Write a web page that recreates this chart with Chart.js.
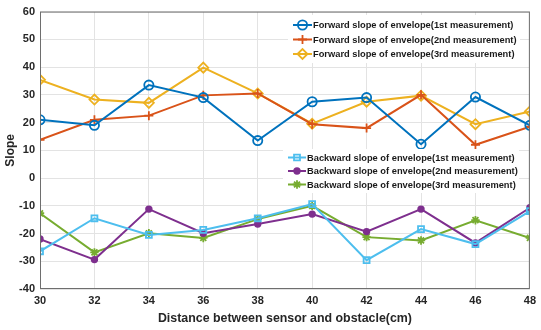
<!DOCTYPE html>
<html>
<head>
<meta charset="utf-8">
<script src="https://cdn.jsdelivr.net/npm/chart.js@4"></script>
<style>
  html, body { margin: 0; padding: 0; background: #fff; }
  #wrap { width: 541px; height: 330px; }
</style>
</head>
<body>
<div id="wrap"><canvas id="slopeChart"></canvas></div>
<script>
// distances (cm)
const distances = [30, 32, 34, 36, 38, 40, 42, 44, 46, 48];

const forward1 = [21, 19, 33.5, 29, 13.5, 27.5, 29, 12.2, 29.2, 19];
const forward2 = [13.8, 21, 22.5, 29.8, 30.5, 19.4, 18, 30, 12, 18.5];
const forward3 = [35.4, 28.3, 27.1, 39.8, 30.5, 19.6, 27.5, 29.7, 19.4, 24];
const backward1 = [-26.4, -14.5, -20.5, -18.7, -14.5, -9.4, -29.6, -18.4, -23.8, -11.9];
const backward2 = [-22, -29.4, -11.2, -19.9, -16.6, -13, -19.3, -11.2, -23.4, -10.7];
const backward3 = [-12.7, -26.8, -19.9, -21.6, -14.8, -10, -21.3, -22.5, -15.2, -21.6];

const yTicks = [-40, -30, -20, -10, 0, 10, 20, 30, 40, 50, 60];

const FONT = "'Liberation Sans', Arial, Helvetica, sans-serif";

function pts(values) {
    return distances.map((d, i) => ({ x: d, y: values[i] }));
}

function series(label, values, color, style, radius, fill) {
    return {
        label: label,
        data: pts(values),
        borderColor: color,
        backgroundColor: color,
        borderWidth: 2,
        pointStyle: style,
        pointRadius: radius,
        pointBorderWidth: 1.8,
        pointBorderColor: color,
        pointBackgroundColor: fill ? color : "rgba(0,0,0,0)",
        tension: 0
    };
}

const datasets = [
    series("Forward slope of envelope(1st measurement)", forward1, "#0072BD", "circle", 4.6, false),
    series("Forward slope of envelope(2nd measurement)", forward2, "#D95319", "cross", 4.5, false),
    series("Forward slope of envelope(3rd measurement)", forward3, "#EDB120", "rectRot", 5, false),
    series("Backward slope of envelope(1st measurement)", backward1, "#4DBEEE", "rect", 4.2, false),
    series("Backward slope of envelope(2nd measurement)", backward2, "#7E2F8E", "circle", 2.8, true),
    series("Backward slope of envelope(3rd measurement)", backward3, "#77AC30", "star", 4.2, false)
];

// box around the plot + the two legend boxes inside the axes
const boxAndLegends = {
    id: "boxAndLegends",
    afterDatasetsDraw(chart) {
        const ctx = chart.ctx;
        const a = chart.chartArea;
        ctx.save();
        ctx.strokeStyle = "#6e6e6e";
        ctx.lineWidth = 1;
        ctx.strokeRect(a.left + 0.5, a.top + 0.5, a.right - a.left - 1, a.bottom - a.top - 1);

        function legend(indices, x, y, w, h, rowY, lineX0, lineX1, textX) {
            ctx.fillStyle = "#fff";
            ctx.fillRect(x, y, w, h);
            ctx.font = "bold 9.3px " + FONT;
            ctx.textBaseline = "middle";
            ctx.textAlign = "left";
            indices.forEach((di, k) => {
                const ds = chart.data.datasets[di];
                const cy = rowY[k];
                ctx.strokeStyle = ds.borderColor;
                ctx.lineWidth = 2;
                ctx.beginPath();
                ctx.moveTo(lineX0, cy);
                ctx.lineTo(lineX1, cy);
                ctx.stroke();
                ctx.fillStyle = ds.pointBackgroundColor;
                ctx.strokeStyle = ds.pointBorderColor;
                ctx.lineWidth = 1.8;
                Chart.helpers.drawPoint(ctx, {
                    pointStyle: ds.pointStyle,
                    radius: ds.pointRadius,
                    borderWidth: 1.8,
                    rotation: 0
                }, (lineX0 + lineX1) / 2, cy);
                ctx.fillStyle = "#1a1a1a";
                ctx.fillText(ds.label, textX, cy + 0.5);
            });
        }
        legend([0, 1, 2], 288, 15, 232, 48, [25, 39.5, 54], 293, 312, 313);
        legend([3, 4, 5], 283, 149, 236, 44, [157.5, 171, 184.5], 288, 306, 307);
        ctx.restore();
    }
};

new Chart(document.getElementById("slopeChart"), {
    type: "line",
    data: { datasets: datasets },
    plugins: [boxAndLegends],
    options: {
        responsive: true,
        maintainAspectRatio: false,
        animation: false,
        layout: { padding: { top: 9, right: 3, left: 0, bottom: 0 } },
        plugins: {
            legend: { display: false },
            tooltip: { enabled: false }
        },
        scales: {
            x: {
                type: "linear",
                min: 30,
                max: 48,
                afterBuildTicks: (scale) => { scale.ticks = distances.map(v => ({ value: v })); },
                grid: { color: "#e3e3e3", drawTicks: false },
                border: { display: false },
                ticks: {
                    padding: 5,
                    color: "#262626",
                    font: { family: FONT, size: 11, weight: "bold" }
                },
                title: {
                    display: true,
                    text: "Distance between sensor and obstacle(cm)",
                    color: "#262626",
                    padding: { top: 0, bottom: 4 },
                    font: { family: FONT, size: 12.4, weight: "bold" }
                },
                afterFit: (scale) => { scale.height = 41; }
            },
            y: {
                min: -40,
                max: 60,
                afterBuildTicks: (scale) => { scale.ticks = yTicks.map(v => ({ value: v })); },
                grid: { color: "#e3e3e3", drawTicks: false },
                border: { display: false },
                ticks: {
                    padding: 5,
                    color: "#262626",
                    font: { family: FONT, size: 11, weight: "bold" }
                },
                title: {
                    display: true,
                    text: "Slope",
                    color: "#262626",
                    padding: { top: 3, bottom: 0 },
                    font: { family: FONT, size: 12, weight: "bold" }
                },
                afterFit: (scale) => { scale.width = 40; }
            }
        }
    }
});
</script>
</body>
</html>
